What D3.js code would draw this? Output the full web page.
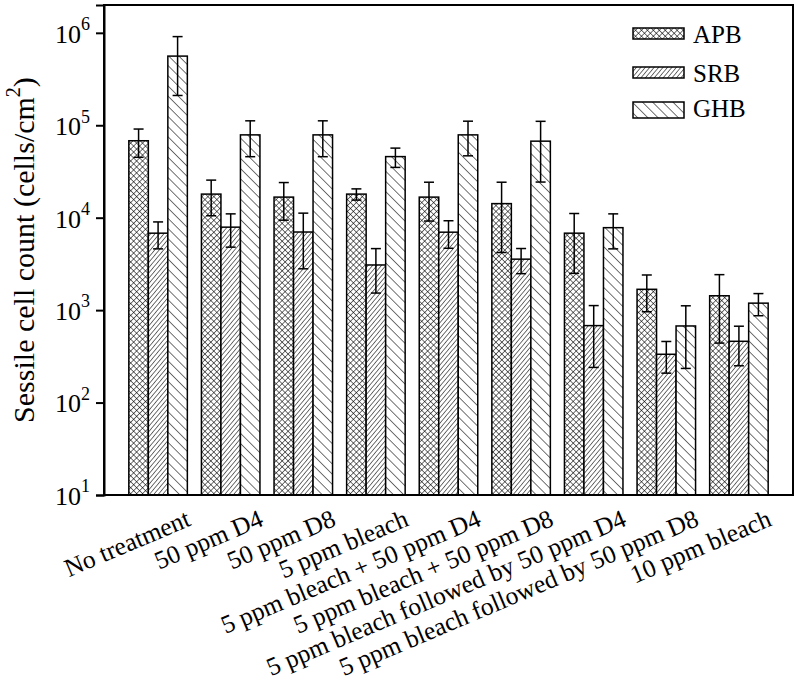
<!DOCTYPE html>
<html>
<head>
<meta charset="utf-8">
<script src="https://cdn.jsdelivr.net/npm/d3@7"></script>
<style>
  html, body { margin: 0; padding: 0; background: #fff; }
  svg { display: block; font-family: "Liberation Serif", "Times New Roman", serif; }
</style>
</head>
<body>
<svg id="chart" width="800" height="686"></svg>
<script>
const categories = ["No treatment", "50 ppm D4", "50 ppm D8", "5 ppm bleach",
  "5 ppm bleach + 50 ppm D4", "5 ppm bleach + 50 ppm D8",
  "5 ppm bleach followed by 50 ppm D4", "5 ppm bleach followed by 50 ppm D8",
  "10 ppm bleach"];
const seriesNames = ["APB", "SRB", "GHB"];
const apb    = [68000, 18000, 16700, 18000, 16700, 14200, 6800, 1680, 1430];
const apbErr = [23000, 7500, 7300, 2500, 7500, 10000, 4300, 720, 990];
const srb    = [6800, 7900, 7000, 3080, 6970, 3560, 680, 333, 460];
const srbErr = [2200, 3100, 4200, 1550, 2300, 1080, 440, 125, 210];
const ghb    = [560000, 78700, 78700, 45800, 78700, 67300, 7800, 674, 1190];
const ghbErr = [350000, 33000, 33000, 10800, 32000, 43000, 3200, 440, 320];
const yTicks = [1e1, 1e2, 1e3, 1e4, 1e5, 1e6];
const yLabel = "Sessile cell count (cells/cm";

const values = [apb, srb, ghb];
const errs = [apbErr, srbErr, ghbErr];

const svg = d3.select("#chart");
const L = 104, R = 793, T = 5, B = 495;

// patterns
const defs = svg.append("defs");
function linePattern(id, size, angle, lines) {
  const p = defs.append("pattern").attr("id", id)
    .attr("patternUnits", "userSpaceOnUse")
    .attr("width", size).attr("height", size)
    .attr("patternTransform", `rotate(${angle})`);
  p.append("rect").attr("width", size).attr("height", size).attr("fill", "#fff");
  lines.forEach(l => p.append("line")
    .attr("x1", l[0]).attr("y1", l[1]).attr("x2", l[2]).attr("y2", l[3])
    .attr("stroke", "#000").attr("stroke-width", 1.1));
}
linePattern("pAPB", 4.2, 45, [[0, 0, 0, 4.2], [0, 0, 4.2, 0]]);
linePattern("pSRB", 3.4, 40, [[0, 0, 0, 3.4]]);
linePattern("pGHB", 7.2, -45, [[0, 0, 0, 7.2]]);
const fills = ["url(#pAPB)", "url(#pSRB)", "url(#pGHB)"];

const x0 = d3.scaleBand().domain(categories).range([L, R])
  .paddingInner(0.194).paddingOuter(0.342);
const x1 = d3.scaleBand().domain(seriesNames).range([0, x0.bandwidth()]);
const y = d3.scaleLog().domain([10, 2e6]).range([B, T]);

// bars
const data = [];
categories.forEach((c, i) => seriesNames.forEach((s, j) => {
  data.push({ c, s, j, v: values[j][i], e: errs[j][i] });
}));

svg.append("g").selectAll("rect").data(data).join("rect")
  .attr("x", d => x0(d.c) + x1(d.s))
  .attr("y", d => y(d.v))
  .attr("width", x1.bandwidth())
  .attr("height", d => B - y(d.v))
  .attr("fill", d => fills[d.j])
  .attr("stroke", "#000").attr("stroke-width", 1.5);

// error bars
const eg = svg.append("g").attr("stroke", "#000").attr("stroke-width", 1.5);
data.forEach(d => {
  const cx = x0(d.c) + x1(d.s) + x1.bandwidth() / 2;
  const hi = y(d.v + d.e), lo = y(Math.max(d.v - d.e, 10));
  eg.append("line").attr("x1", cx).attr("x2", cx).attr("y1", hi).attr("y2", lo);
  eg.append("line").attr("x1", cx - 5).attr("x2", cx + 5).attr("y1", hi).attr("y2", hi);
  eg.append("line").attr("x1", cx - 5).attr("x2", cx + 5).attr("y1", lo).attr("y2", lo);
});

// frame
svg.append("rect").attr("x", L).attr("y", T).attr("width", R - L).attr("height", B - T)
  .attr("fill", "none").attr("stroke", "#000").attr("stroke-width", 2);

// y axis
const yAxis = d3.axisLeft(y).tickValues(yTicks).tickSize(8).tickPadding(13)
  .tickFormat(() => "");
const ya = svg.append("g").attr("transform", `translate(${L},0)`).call(yAxis);
ya.select(".domain").attr("stroke-width", 2);
ya.selectAll(".tick line").attr("stroke-width", 2);
ya.selectAll(".tick text").each(function(d) {
  const t = d3.select(this).attr("font-size", 26).attr("font-family", "Liberation Serif")
    .attr("fill", "#000").attr("dy", "0.36em").attr("x", -14);
  t.append("tspan").text("10");
  t.append("tspan").attr("font-size", 18).attr("dy", "-0.7em").text(Math.round(Math.log10(d)));
});

// x labels
svg.append("g").selectAll("text").data(categories).join("text")
  .attr("transform", d => `translate(${x0(d) + x0.bandwidth() / 2 + 34},525) rotate(-23)`)
  .attr("text-anchor", "end")
  .attr("font-size", 25.5)
  .attr("fill", "#000")
  .text(d => d);

// y label
const yl = svg.append("text")
  .attr("transform", `translate(34,${(T + B) / 2}) rotate(-90)`)
  .attr("text-anchor", "middle").attr("font-size", 30).attr("fill", "#000");
yl.append("tspan").text(yLabel);
yl.append("tspan").attr("font-size", 20).attr("dy", "-0.7em").text("2");
yl.append("tspan").attr("dy", "0.47em").text(")");

// legend
const legY = [28, 67, 102];
const legH = [11, 11, 16];
const lg = svg.append("g");
seriesNames.forEach((s, j) => {
  lg.append("rect").attr("x", 633).attr("y", legY[j]).attr("width", 51).attr("height", legH[j])
    .attr("fill", fills[j]).attr("stroke", "#000").attr("stroke-width", 1.5);
  lg.append("text").attr("x", 693).attr("y", [43, 82, 117][j])
    .attr("font-size", 25).attr("fill", "#000").text(s);
});
</script>
</body>
</html>
